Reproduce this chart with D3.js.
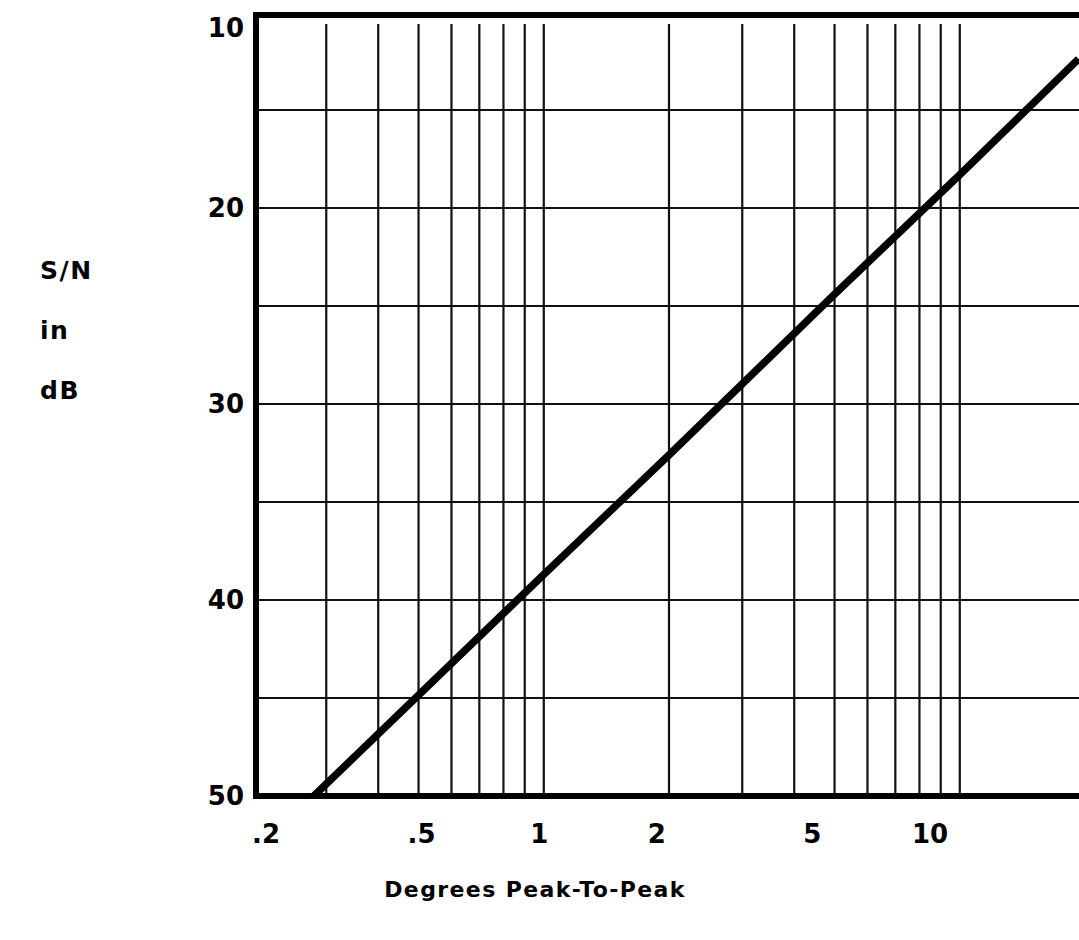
<!DOCTYPE html>
<html>
<head>
<meta charset="utf-8">
<script src="https://cdn.jsdelivr.net/npm/d3@7"></script>
<style>
  html, body { margin: 0; padding: 0; background: #fff; }
  svg { display: block; }
  text { font-family: "DejaVu Sans", "Liberation Sans", sans-serif; font-weight: bold; fill: #000; }
</style>
</head>
<body>
<svg id="chart" width="1079" height="940"></svg>
<script>
// Phase jitter (degrees peak-to-peak) against signal-to-noise ratio (dB)
const xTickValues = [0.2, 0.5, 1, 2, 5, 10];
const xTickLabels = [".2", ".5", "1", "2", "5", "10"];
const xGridValues = [0.3, 0.4, 0.5, 0.6, 0.7, 0.8, 0.9, 1, 2, 3, 4, 5, 6, 7, 8, 9, 10];
const yTickValues = [10, 20, 30, 40, 50];
const yGridValues = [15, 20, 25, 30, 35, 40, 45];
const curveDegrees = [0.28, 1, 2, 5, 10, 19.3];
const curveSnrDb = [50, 38.7, 32.6, 24.4, 18.3, 12.4];
const yTitleLines = ["S/N", "in", "dB"];
const xTitle = "Degrees Peak-To-Peak";

const svg = d3.select("#chart");
const plot = { left: 256, top: 14, bottom: 796, right: 1090 };

// log x axis: one decade ≈ 416 px
const x = d3.scaleLog().domain([0.2, 20]).range([253, 253 + 2 * 416]);
// label row sits on its own, slightly compressed log placement
const xLab = d3.scaleLog().domain([0.2, 10]).range([266, 930]);
const y = d3.scaleLinear().domain([10, 50]).range([12, 796]);

const g = svg.append("g");

// vertical grid
g.selectAll("line.vgrid")
  .data(xGridValues)
  .join("line")
  .attr("class", "vgrid")
  .attr("x1", d => x(d)).attr("x2", d => x(d))
  .attr("y1", plot.top + 10).attr("y2", plot.bottom - 2)
  .attr("stroke", "#111").attr("stroke-width", 2.2);

// horizontal grid
g.selectAll("line.hgrid")
  .data(yGridValues)
  .join("line")
  .attr("class", "hgrid")
  .attr("x1", plot.left).attr("x2", plot.right)
  .attr("y1", d => y(d)).attr("y2", d => y(d))
  .attr("stroke", "#111").attr("stroke-width", 2.2);

// frame: left, top and bottom edges (right edge runs past the page)
g.append("path")
  .attr("d", `M${plot.right},${y(10) + 3} H${plot.left} V${y(50)} H${plot.right}`)
  .attr("fill", "none")
  .attr("stroke", "#000")
  .attr("stroke-width", 6)
  .attr("stroke-linejoin", "miter");

// response line
const pts = curveDegrees.map((d, i) => [d, curveSnrDb[i]]);
g.append("path")
  .datum(pts)
  .attr("d", d3.line().x(d => x(d[0])).y(d => y(d[1])))
  .attr("fill", "none")
  .attr("stroke", "#000")
  .attr("stroke-width", 7.5)
  .attr("stroke-linecap", "butt");

// y tick labels
g.selectAll("text.ytick")
  .data(yTickValues)
  .join("text")
  .attr("class", "ytick")
  .attr("x", 244)
  .attr("y", d => Math.max(y(d), y(10) + 16))
  .attr("dy", "0.36em")
  .attr("text-anchor", "end")
  .attr("font-size", 26)
  .text(d => d);

// x tick labels
g.selectAll("text.xtick")
  .data(xTickValues)
  .join("text")
  .attr("class", "xtick")
  .attr("x", d => xLab(d))
  .attr("y", 843)
  .attr("text-anchor", "middle")
  .attr("font-size", 26)
  .text((d, i) => xTickLabels[i]);

// axis titles
g.selectAll("text.ytitle")
  .data(yTitleLines)
  .join("text")
  .attr("class", "ytitle")
  .attr("x", 40)
  .attr("y", (d, i) => 279 + i * 60)
  .attr("font-size", 25)
  .attr("letter-spacing", 1.5)
  .text(d => d);

g.append("text")
  .attr("x", 535)
  .attr("y", 897)
  .attr("text-anchor", "middle")
  .attr("font-size", 22)
  .attr("letter-spacing", 1.4)
  .text(xTitle);
</script>
</body>
</html>
